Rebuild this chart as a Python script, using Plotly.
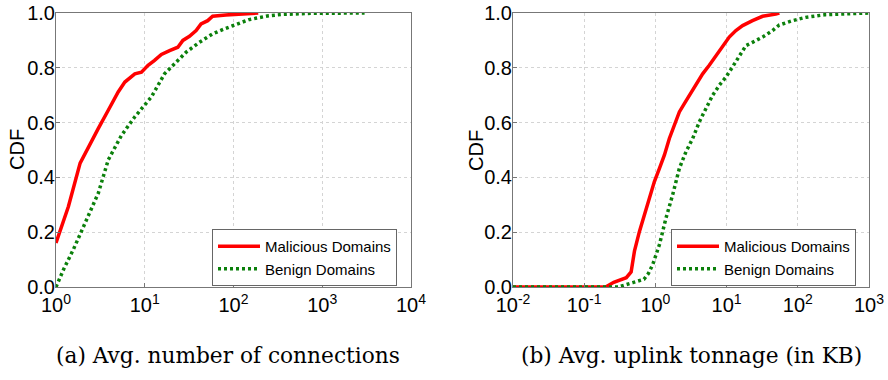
import plotly.graph_objects as go

# ---------------- data ----------------
conn_mal_x = [1, 1.38, 1.87, 2.32, 3.0, 3.88, 5.02, 5.97, 7.73, 9.18, 10.9, 12.9, 15.4,
              19.05, 23.6, 26.9, 31.9, 37.9, 43.1, 51.2, 58.2, 82, 126, 190]
conn_mal_y = [0.161, 0.294, 0.452, 0.512, 0.579, 0.645, 0.712, 0.748, 0.778, 0.784, 0.809, 0.827,
              0.849, 0.863, 0.875, 0.9, 0.915, 0.936, 0.96, 0.972, 0.988, 0.993, 0.998, 1.0]

conn_ben_x = [1, 1.22, 1.57, 2.32, 3.0, 3.88, 5.48, 7.73, 11.9, 16.7, 22.6, 29.3,
              41.3, 58.2, 82, 116, 150, 250, 363, 800, 3000]
conn_ben_y = [0.0, 0.065, 0.137, 0.258, 0.343, 0.464, 0.554, 0.621, 0.694, 0.778, 0.821, 0.857,
              0.893, 0.924, 0.944, 0.964, 0.976, 0.99, 0.995, 0.999, 1.0]

ton_mal_x = [0.01, 0.2, 0.26, 0.31, 0.39, 0.456, 0.508, 0.597, 0.701, 0.824, 0.968, 1.14, 1.34, 1.57,
             1.85, 2.17, 2.55, 3.0, 3.72, 4.61, 5.71, 7.08, 8.79, 10.9, 13.5, 16.8, 23.1, 32, 49, 55]
ton_mal_y = [0.0, 0.0, 0.017, 0.024, 0.034, 0.055, 0.131, 0.203, 0.264, 0.324, 0.385, 0.433, 0.482,
             0.542, 0.591, 0.639, 0.669, 0.7, 0.736, 0.778, 0.809, 0.845, 0.881, 0.912, 0.936, 0.954,
             0.972, 0.988, 0.996, 1.0]

ton_ben_x = [0.01, 0.3, 0.48, 0.69, 0.8, 0.918, 1.14, 1.41, 1.75, 2.17, 2.69, 3.34, 4.14, 5.13, 6.37,
             7.89, 9.78, 12.1, 15.1, 18.7, 23.1, 32, 44.2, 54.7, 84, 129, 246, 500, 1000]
ton_ben_y = [0.0, 0.0, 0.016, 0.028, 0.05, 0.082, 0.155, 0.252, 0.337, 0.433, 0.494, 0.542, 0.603,
             0.651, 0.7, 0.736, 0.766, 0.803, 0.845, 0.881, 0.893, 0.912, 0.936, 0.956, 0.972, 0.984,
             0.994, 0.998, 1.0]

series_names = ["Malicious Domains", "Benign Domains"]
left_ticks = [1, 10, 100, 1000, 10000]
left_ticktext = ["10<sup>0</sup>", "10<sup>1</sup>", "10<sup>2</sup>", "10<sup>3</sup>", "10<sup>4</sup>"]
right_ticks = [0.01, 0.1, 1, 10, 100, 1000]
right_ticktext = ["10<sup>-2</sup>", "10<sup>-1</sup>", "10<sup>0</sup>", "10<sup>1</sup>",
                  "10<sup>2</sup>", "10<sup>3</sup>"]
y_ticks = [0, 0.2, 0.4, 0.6, 0.8, 1.0]
y_ticktext = ["0.0", "0.2", "0.4", "0.6", "0.8", "1.0"]
y_title = "CDF"
captions = ["(a) Avg. number of connections", "(b) Avg. uplink tonnage (in KB)"]

# ---------------- figure ----------------
W, H = 888, 380
RED = "#ff0000"
GREEN = "#0b800b"
SANS = "Liberation Sans, Arial, sans-serif"
SERIF = "DejaVu Serif, serif"

fig = go.Figure()

fig.add_trace(go.Scatter(x=conn_mal_x, y=conn_mal_y, mode="lines", name=series_names[0],
                         line=dict(color=RED, width=3.5), xaxis="x", yaxis="y", legend="legend"))
fig.add_trace(go.Scatter(x=conn_ben_x, y=conn_ben_y, mode="lines", name=series_names[1],
                         line=dict(color=GREEN, width=3.5, dash="3px,3px"), xaxis="x", yaxis="y",
                         legend="legend"))
fig.add_trace(go.Scatter(x=ton_mal_x, y=ton_mal_y, mode="lines", name=series_names[0],
                         line=dict(color=RED, width=3.5), xaxis="x2", yaxis="y2", legend="legend2"))
fig.add_trace(go.Scatter(x=ton_ben_x, y=ton_ben_y, mode="lines", name=series_names[1],
                         line=dict(color=GREEN, width=3.5, dash="3px,3px"), xaxis="x2", yaxis="y2",
                         legend="legend2"))

ydom = [1 - 287 / H, 1 - 13 / H]

common_axis = dict(showline=True, linecolor="#777777", linewidth=1, mirror=True,
                   ticks="inside", ticklen=4, tickcolor="#777777", automargin=False,
                   showgrid=True, gridcolor="#d4d4d4", griddash="dot", gridwidth=1,
                   zeroline=False, tickfont=dict(family=SANS, size=20, color="#000000"))

fig.update_layout(
    width=W, height=H,
    margin=dict(l=0, r=0, t=0, b=0),
    paper_bgcolor="white", plot_bgcolor="white",
    xaxis=dict(type="log", range=[0, 4], domain=[56 / W, 411 / W], anchor="y",
               tickvals=left_ticks, ticktext=left_ticktext, **common_axis),
    yaxis=dict(range=[0, 1], domain=ydom, anchor="x", tickvals=y_ticks, ticktext=y_ticktext,
               ticklabelstandoff=-4, **common_axis),
    xaxis2=dict(type="log", range=[-2, 3], domain=[513 / W, 869 / W], anchor="y2",
                tickvals=right_ticks, ticktext=right_ticktext, **common_axis),
    yaxis2=dict(range=[0, 1], domain=ydom, anchor="x2", tickvals=y_ticks, ticktext=y_ticktext,
                ticklabelstandoff=-4, **common_axis),
    legend=dict(x=212 / W, y=1 - 229 / H, xanchor="left", yanchor="top", itemwidth=42,
                bgcolor="white", bordercolor="#666666", borderwidth=1,
                font=dict(family=SANS, size=15, color="#000000")),
    legend2=dict(x=671 / W, y=1 - 229 / H, xanchor="left", yanchor="top", itemwidth=42,
                 bgcolor="white", bordercolor="#666666", borderwidth=1,
                 font=dict(family=SANS, size=15, color="#000000")),
    showlegend=True,
)

for cx in (17, 476):
    fig.add_annotation(text=y_title, xref="paper", yref="paper", x=cx / W, y=1 - 150 / H,
                       xanchor="center", yanchor="middle", textangle=-90, showarrow=False,
                       font=dict(family=SANS, size=20, color="#000000"))

fig.add_annotation(text=captions[0], xref="paper", yref="paper", x=228 / W, y=1 - 355 / H,
                   xanchor="center", yanchor="middle", showarrow=False,
                   font=dict(family=SERIF, size=21.7, color="#000000"))
fig.add_annotation(text=captions[1], xref="paper", yref="paper", x=691 / W, y=1 - 355 / H,
                   xanchor="center", yanchor="middle", showarrow=False,
                   font=dict(family=SERIF, size=21.7, color="#000000"))

fig.write_html("out.html")
